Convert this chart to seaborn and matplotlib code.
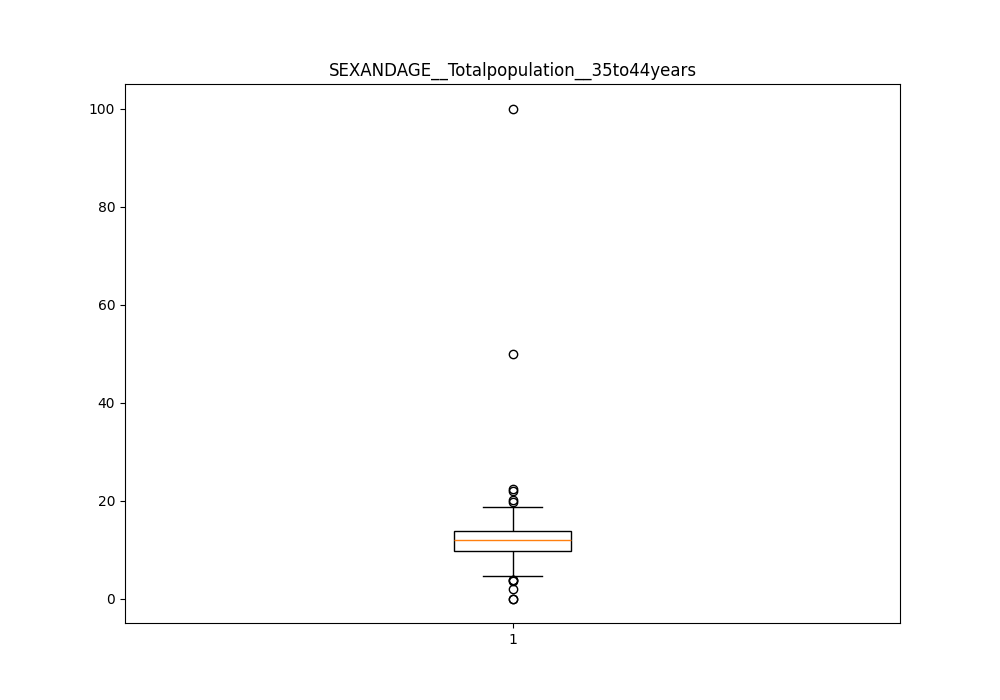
import matplotlib
matplotlib.use("Agg")
import matplotlib.pyplot as plt
import seaborn as sns
import pandas as pd

title = "SEXANDAGE__Totalpopulation__35to44years"
group_label = "1"
values = [0.0, 0.0, 2.0, 3.5, 3.7, 3.8, 4.5, 6.5, 8.0, 9.6,
          9.8, 10.3, 10.7, 11.0, 11.3, 11.5, 11.7, 11.8, 11.9, 11.95,
          12.05, 12.2, 12.4, 12.6, 12.8, 13.0, 13.2, 13.35, 13.5, 13.6,
          14.0, 15.0, 16.5, 18.6, 19.7, 20.2, 22.0, 22.4, 50.0, 100.0]

df = pd.DataFrame({"group": [group_label] * len(values), "value": values})

fig, ax = plt.subplots(figsize=(10, 7), dpi=100)
sns.boxplot(data=df, x="group", y="value", ax=ax, width=0.15,
            color="white", linecolor="black", linewidth=1.0,
            medianprops=dict(color="#ff7f0e", linewidth=1.0),
            flierprops=dict(marker="o", markerfacecolor="none",
                            markeredgecolor="black", markersize=6))
ax.set_xlim(-0.5, 0.5)
ax.set_xlabel("")
ax.set_ylabel("")
ax.set_title(title)
fig.savefig("out.png", dpi=100)
